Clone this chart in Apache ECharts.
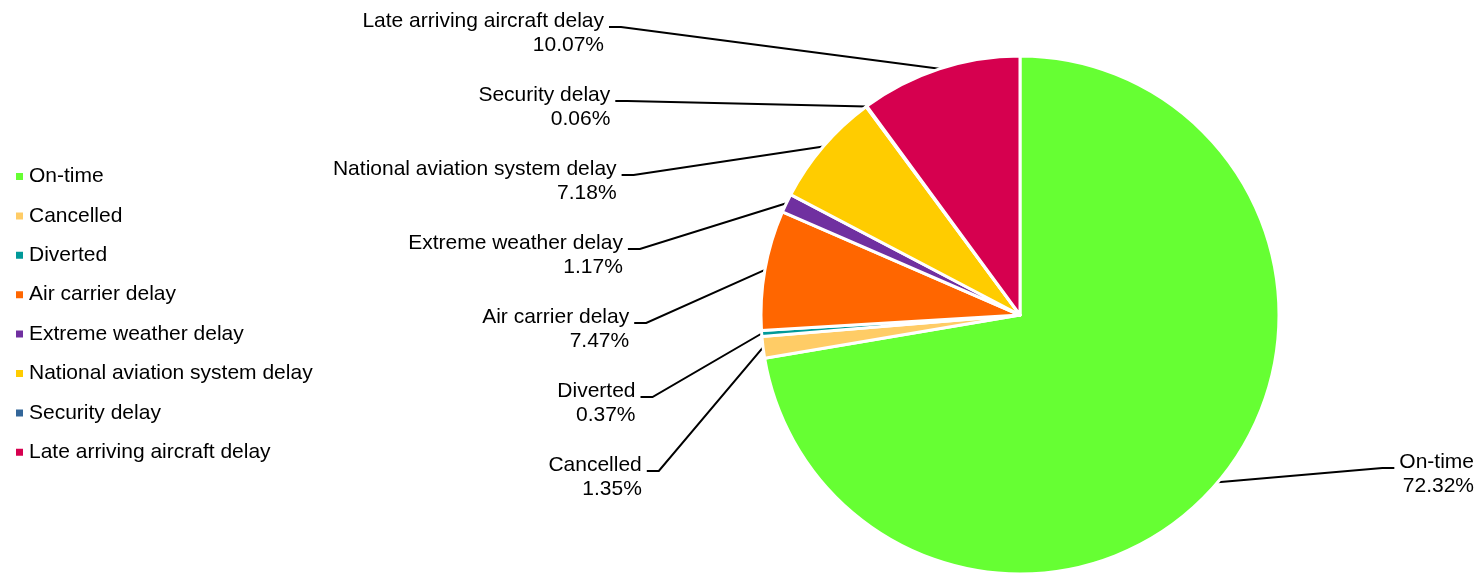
<!DOCTYPE html>
<html>
<head>
<meta charset="utf-8">
<script src="https://cdn.jsdelivr.net/npm/echarts@6/dist/echarts.min.js"></script>
<style>
html,body{margin:0;padding:0;background:#ffffff;}
#chart{width:1477px;height:574px;}
</style>
</head>
<body>
<div id="chart"></div>
<script>
// ---- data ----
const categories = [
  'On-time',
  'Cancelled',
  'Diverted',
  'Air carrier delay',
  'Extreme weather delay',
  'National aviation system delay',
  'Security delay',
  'Late arriving aircraft delay'
];
const shares = [72.32, 1.35, 0.37, 7.47, 1.17, 7.18, 0.06, 10.07];

// ---- style / layout ----
const colors = ['#66FF33', '#FFCC66', '#009999', '#FF6600', '#7030A0', '#FFCC00', '#336699', '#D6004F'];
const FONT = 'Liberation Sans, Arial, Helvetica, sans-serif';
const CX = 1020, CY = 315, R = 259;
const LEFT_TOP = 33, LEFT_STEP = 74, LEFT_X0 = 604, LEFT_DX = 6.3;
const RIGHT_X = 1474, RIGHT_Y = 474;
const STUB = 12, GAP = 5, LINE_DY = -6;

const chart = echarts.init(document.getElementById('chart'), null, { renderer: 'canvas' });
const lastIndex = categories.length - 1;

chart.setOption({
  animation: false,
  backgroundColor: '#ffffff',
  color: colors,
  legend: {
    orient: 'vertical',
    left: 14,
    top: 166,
    padding: 0,
    itemWidth: 9,
    itemHeight: 9,
    itemGap: 18.4,
    icon: 'rect',
    selectedMode: false,
    data: categories,
    textStyle: { fontSize: 21, color: '#000000', fontFamily: FONT }
  },
  series: [{
    type: 'pie',
    center: [CX, CY],
    radius: R,
    startAngle: 90,
    clockwise: true,
    avoidLabelOverlap: false,
    data: categories.map((c, i) => ({ name: c, value: shares[i] })),
    itemStyle: { borderColor: '#ffffff', borderWidth: 3 },
    emphasis: { disabled: true },
    label: {
      show: true,
      position: 'outside',
      formatter: p => p.name + '\n' + p.value.toFixed(2) + '%',
      fontSize: 21,
      lineHeight: 24,
      color: '#000000',
      fontFamily: FONT
    },
    labelLine: {
      show: true,
      length: 20,
      length2: 12,
      lineStyle: { color: '#000000', width: 2 }
    },
    labelLayout: function (p) {
      const start = p.labelLinePoints[0];
      const w = p.labelRect.width;
      if (start[0] >= CX) {
        const xl = RIGHT_X - w;
        const ly = RIGHT_Y + LINE_DY;
        return {
          x: RIGHT_X, y: RIGHT_Y, align: 'right', verticalAlign: 'middle',
          labelLinePoints: [start, [xl - GAP - STUB, ly], [xl - GAP, ly]]
        };
      }
      const k = lastIndex - p.dataIndex;
      const y = LEFT_TOP + k * LEFT_STEP;
      const xr = LEFT_X0 + k * LEFT_DX;
      const ly = y + LINE_DY;
      return {
        x: xr, y: y, align: 'right', verticalAlign: 'middle',
        labelLinePoints: [start, [xr + GAP + STUB, ly], [xr + GAP, ly]]
      };
    }
  }]
});
</script>
</body>
</html>
